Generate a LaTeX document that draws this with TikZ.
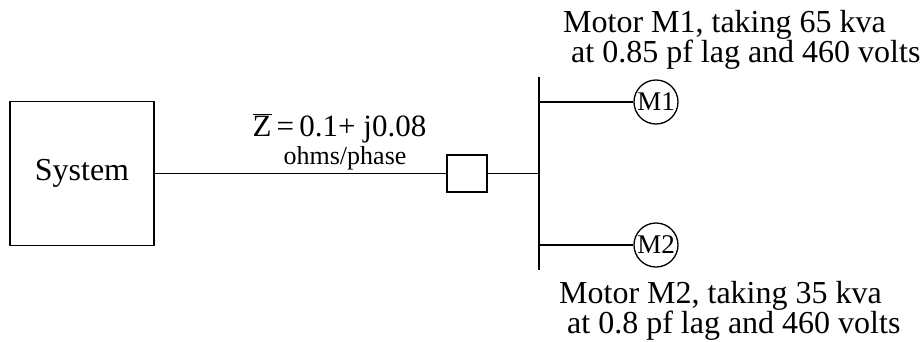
\documentclass[tikz,border=0pt]{standalone}
\usepackage{fontspec}
\setmainfont{Liberation Serif}

\begin{document}
\begin{tikzpicture}[x=1pt,y=-1pt,line width=1.3pt,
        label/.style={anchor=base west,inner sep=0pt,align=left,font=\fontsize{32}{30}\selectfont},
        motor/.style={draw,circle,minimum size=44pt,inner sep=0pt,font=\fontsize{27}{30}\selectfont},
    ]
            \useasboundingbox (0,0) rectangle (923,341);

            \node[draw,minimum width=144pt,minimum height=144pt,font=\fontsize{32}{30}\selectfont] (sys) at (82,173.5) {System};
            \node[draw,minimum width=40pt,minimum height=37pt] (brk) at (467,173.5) {};
            \coordinate (bustop) at (539,77);
            \coordinate (busbot) at (539,270);
            \node[motor] (m1) at (656,102) {M1};
            \node[motor] (m2) at (656,245) {M2};

            % line and bus
            \draw (sys.east) -- (brk.west);
            \draw (brk.east) -- (brk.east -| bustop);
            \draw (bustop) -- (busbot);
            \draw (m1.west -| bustop) -- (m1);
            \draw (m2.west -| bustop) -- (m2);

            % labels
            \node[label,font=\fontsize{31}{30}\selectfont] (zline) at (252,136) {$\overline{\mbox{Z}}$\,=\,0.1+ j0.08};
            \node[label,font=\fontsize{26}{30}\selectfont] (zunit) at (283,164) {ohms/phase};
            \node[label] (m1text) at (562.5,62) {Motor M1, taking 65 kva\\\ at 0.85 pf lag and 460 volts};
            \node[label] (m2text) at (558.5,333) {Motor M2, taking 35 kva\\\ at 0.8 pf lag and 460 volts};
        \end{tikzpicture}
\end{document}
